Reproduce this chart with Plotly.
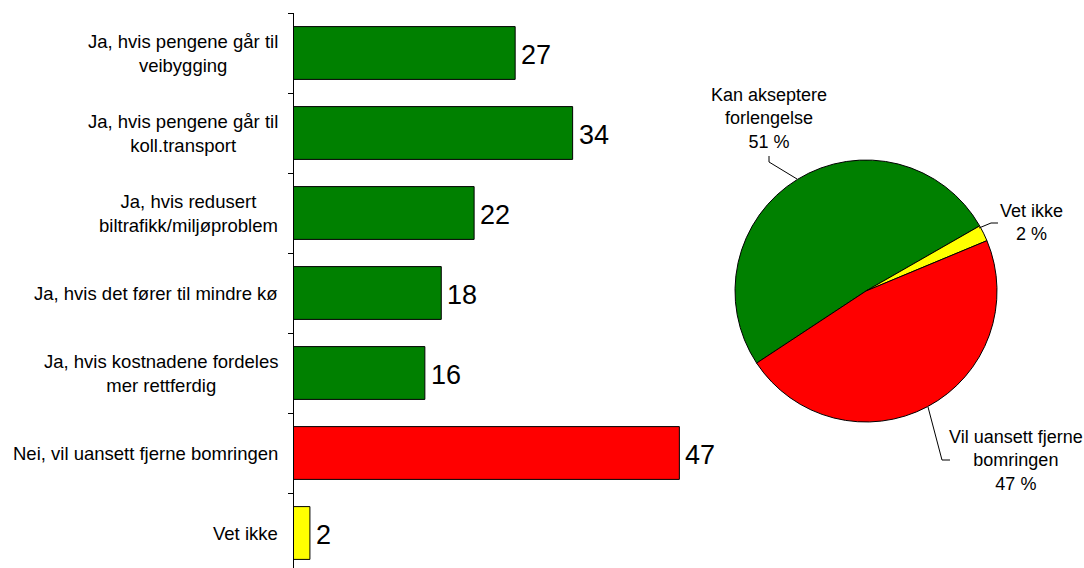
import plotly.graph_objects as go

W, H = 1084, 568

# Bar chart data (percent)
bar_labels = [
    "Ja, hvis pengene går til<br>veibygging",
    "Ja, hvis pengene går til<br>koll.transport",
    "Ja, hvis redusert<br>biltrafikk/miljøproblem",
    "Ja, hvis det fører til mindre kø",
    "Ja, hvis kostnadene fordeles<br>mer rettferdig",
    "Nei, vil uansett fjerne bomringen",
    "Vet ikke",
]
bar_values = [27, 34, 22, 18, 16, 47, 2]
bar_colors = ["#008000", "#008000", "#008000", "#008000", "#008000", "#FF0000", "#FFFF00"]

# Pie chart data (percent)
pie_labels = ["Kan akseptere<br>forlengelse", "Vet ikke", "Vil uansett fjerne<br>bomringen"]
pie_values = [51, 2, 47]
pie_colors = ["#008000", "#FFFF00", "#FF0000"]

FONT = "Liberation Sans, Arial, sans-serif"
positions = list(range(len(bar_labels)))


def px_x(x):
    return x / W


def px_y(y):
    return 1 - y / H


fig = go.Figure()

fig.add_trace(go.Bar(
    x=bar_values,
    y=positions,
    orientation="h",
    marker=dict(color=bar_colors, line=dict(color="black", width=1)),
    hoverinfo="skip",
    xaxis="x", yaxis="y",
))

fig.add_trace(go.Pie(
    labels=pie_labels,
    values=pie_values,
    sort=False,
    direction="clockwise",
    rotation=236.6,
    marker=dict(colors=pie_colors, line=dict(color="black", width=1)),
    textinfo="none",
    hoverinfo="skip",
    showlegend=False,
    domain=dict(x=[px_x(735), px_x(997)], y=[px_y(422), px_y(160)]),
))

annotations = []
# Category labels: lines centred, block right-aligned next to the axis
for pos, lab in zip(positions, bar_labels):
    annotations.append(dict(
        x=0, y=pos, xref="x", yref="y", text=lab, showarrow=False,
        xanchor="right", yanchor="middle", align="center", xshift=-14,
        font=dict(family=FONT, size=18.5, color="black"),
    ))
# Value labels at bar ends
for pos, v in zip(positions, bar_values):
    annotations.append(dict(
        x=v, y=pos, xref="x", yref="y", text=str(v), showarrow=False,
        xanchor="left", yanchor="middle", xshift=4, yshift=-2,
        font=dict(family=FONT, size=27, color="black"),
    ))

# Pie labels
pie_label_pos = [(769, 118), (1031, 222), (1016, 460)]
for lab, v, (lx, ly) in zip(pie_labels, pie_values, pie_label_pos):
    annotations.append(dict(
        x=px_x(lx), y=px_y(ly), xref="paper", yref="paper",
        text=f"{lab}<br>{v} %", showarrow=False,
        xanchor="center", yanchor="middle", align="center",
        font=dict(family=FONT, size=18, color="black"),
    ))

# Leader lines for the pie labels
leaders = [
    [(769, 156), (769, 162), (797, 179)],
    [(979, 228), (991, 223), (998, 223)],
    [(928, 407), (942, 460), (950, 460)],
]
shapes = []
for pts in leaders:
    path = "M " + " L ".join(f"{px_x(x):.5f},{px_y(y):.5f}" for x, y in pts)
    shapes.append(dict(type="path", xref="paper", yref="paper", path=path,
                       line=dict(color="black", width=1)))

fig.update_layout(
    width=W, height=H,
    margin=dict(l=0, r=0, t=0, b=0),
    paper_bgcolor="white", plot_bgcolor="white",
    showlegend=False,
    bargap=0.34,
    xaxis=dict(domain=[px_x(293.5), px_x(293.5 + 8.21 * 50)], range=[0, 50],
               visible=False, fixedrange=True),
    yaxis=dict(domain=[0, px_y(13)],
               range=[6.4375, -0.5], showline=True, linecolor="black", linewidth=1,
               ticks="outside", ticklen=5, tickcolor="black", tickwidth=1,
               tickmode="array", tickvals=[p - 0.5 for p in positions] + [positions[-1] + 0.5],
               showticklabels=False, showgrid=False, zeroline=False, fixedrange=True),
    annotations=annotations,
    shapes=shapes,
    font=dict(family=FONT, size=18, color="black"),
)

fig.write_html("out.html")
